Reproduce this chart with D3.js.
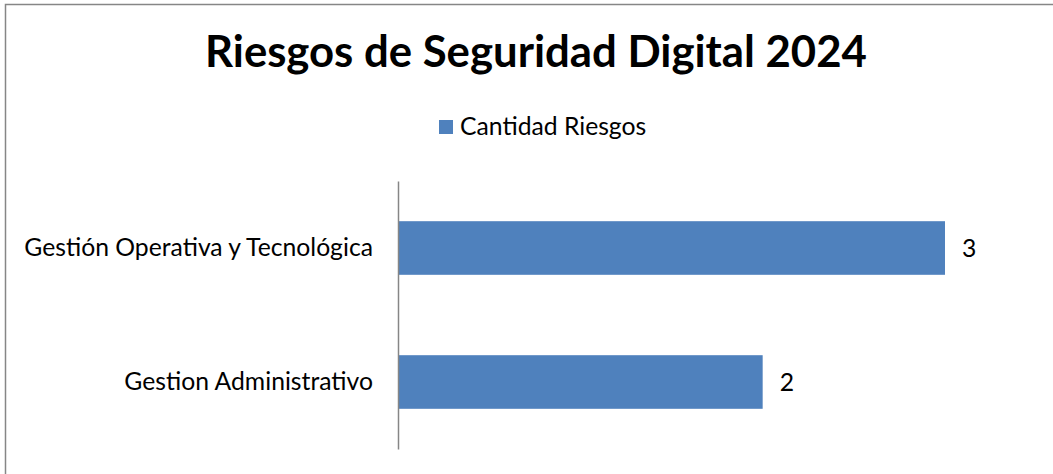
<!DOCTYPE html>
<html>
<head>
<meta charset="utf-8">
<script src="https://cdn.jsdelivr.net/npm/d3@7"></script>
<style>
  body { margin: 0; background: #fff; }
  svg { display: block; font-family: Lato, "Open Sans", sans-serif; }
</style>
</head>
<body>
<svg id="chart" width="1053" height="474"></svg>
<script>
// chart data
const chartTitle = "Riesgos de Seguridad Digital 2024";
const seriesName = "Cantidad Riesgos";
const categories = ["Gestión Operativa y Tecnológica", "Gestion Administrativo"];
const values = [3, 2];

const svg = d3.select("#chart");
const barColor = "#4F81BD";

// outer chart border (right and bottom edges fall outside the window)
svg.append("rect")
    .attr("x", 5.5).attr("y", 4.5)
    .attr("width", 1100).attr("height", 500)
    .attr("fill", "none")
    .attr("stroke", "#868686")
    .attr("stroke-width", 1.5);

// title, fitted to the reference width
let t = svg.append("text")
    .attr("x", 536).attr("y", 67)
    .attr("text-anchor", "middle")
    .attr("font-weight", "bold")
    .attr("font-size", 40)
    .attr("fill", "#000")
    .text(chartTitle);
let w = t.node().getComputedTextLength();
t.attr("font-size", 40 * 662 / w);

// body text size: fit the long category label to ~349px like the original
let probe = svg.append("text").attr("font-size", 20).text(categories[0]);
let fs = 20 * 349 / probe.node().getComputedTextLength();
probe.remove();

// legend
let legend = svg.append("g").attr("class", "legend");
legend.append("rect")
    .attr("x", 439).attr("y", 120)
    .attr("width", 14).attr("height", 14)
    .attr("fill", barColor);
legend.append("text")
    .attr("x", 460).attr("y", 135)
    .attr("font-size", fs)
    .attr("fill", "#000")
    .text(seriesName);

// scales
let x = d3.scaleLinear().domain([0, 3]).range([398, 945]);
let y = d3.scaleBand()
    .domain(categories)
    .range([181, 449])
    .paddingInner(0.6)
    .paddingOuter(0.3);

// bars
svg.append("g").selectAll("rect")
    .data(values)
    .enter()
    .append("rect")
    .attr("x", x(0))
    .attr("y", (d, i) => y(categories[i]))
    .attr("width", d => x(d) - x(0))
    .attr("height", y.bandwidth())
    .attr("fill", barColor);

// value labels
svg.append("g").selectAll("text")
    .data(values)
    .enter()
    .append("text")
    .attr("x", d => x(d) + 17)
    .attr("y", (d, i) => y(categories[i]) + y.bandwidth() / 2)
    .attr("dy", "0.35em")
    .attr("font-size", fs)
    .attr("fill", "#000")
    .text(d => d);

// category axis
let axis = svg.append("g")
    .attr("transform", "translate(" + x(0) + ",0)")
    .call(d3.axisLeft(y).tickSize(0).tickPadding(25));
axis.select(".domain").attr("stroke", "#868686").attr("stroke-width", 1.5);
axis.selectAll("text")
    .attr("font-size", fs)
    .attr("font-family", "Lato, 'Open Sans', sans-serif")
    .attr("fill", "#000");
</script>
</body>
</html>
